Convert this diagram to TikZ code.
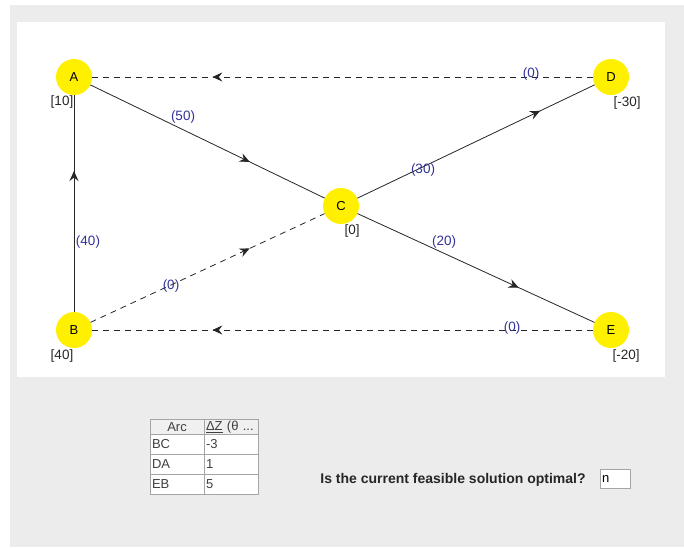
\documentclass[tikz,border=0pt]{standalone}
\usepackage{fontspec}
\setmainfont{Liberation Sans}
\usetikzlibrary{arrows.meta,decorations.markings}
\definecolor{panelGray}{RGB}{236,236,236}
\definecolor{nodeYellow}{RGB}{255,240,0}
\definecolor{flowBlue}{RGB}{51,51,153}
\definecolor{gridGray}{RGB}{165,165,165}
\definecolor{headGray}{RGB}{240,240,240}

\begin{document}
\begin{tikzpicture}[x=1pt, y=-1pt]
    % Styles
    \tikzstyle{vertex} = [circle, fill=nodeYellow, minimum size=36pt, inner sep=0pt, font=\fontsize{13}{15}\selectfont]
    \tikzstyle{supply} = [inner sep=0pt, font=\fontsize{13.5}{15}\selectfont, text=black!85]
    \tikzstyle{flow} = [inner sep=0pt, font=\fontsize{13.5}{15}\selectfont, text=flowBlue]
    \tikzstyle{basic} = [draw=black!85, line width=0.8pt]
    \tikzstyle{nonbasic} = [basic, dash pattern=on 6pt off 5pt]
    \tikzstyle{headcell} = [rectangle, draw=gridGray, fill=headGray, minimum width=54pt, minimum height=15pt, inner sep=2pt, font=\fontsize{13}{15}\selectfont, text=black!75]
    \tikzstyle{cell} = [rectangle, draw=gridGray, fill=white, text width=50pt, align=left, minimum height=20pt, inner sep=2pt, font=\fontsize{13}{15}\selectfont, text=black!75]
    \tikzset{midarrow/.style={postaction={decorate, decoration={markings, mark=at position #1 with {\arrow{Stealth[length=10pt, width=9pt, inset=3.5pt]}}}}}}

    % Background
    \useasboundingbox (0,0) rectangle (684,547);
    \fill[panelGray] (10,5) rectangle (684,547);
    \fill[white] (17,22) rectangle (665,377);

    % Nodes
    \node[vertex] (A) at (74,77) {A};
    \node[vertex] (D) at (611,77) {D};
    \node[vertex] (C) at (341,206) {C};
    \node[vertex] (B) at (74,330) {B};
    \node[vertex] (E) at (611,330) {E};

    \node[supply] (sA) at (62,102) {[10]};
    \node[supply] (sD) at (627,103) {[-30]};
    \node[supply] (sC) at (352,231) {[0]};
    \node[supply] (sB) at (62,356) {[40]};
    \node[supply] (sE) at (626,356) {[-20]};

    % Arcs
    \draw[basic, midarrow=0.68] (A) -- (C);
    \draw[basic, midarrow=0.77] (C) -- (D);
    \draw[basic, midarrow=0.65] (B) -- (A);
    \draw[basic, midarrow=0.68] (C) -- (E);
    \draw[nonbasic, midarrow=0.68] (B) -- (C);
    \draw[nonbasic, midarrow=0.76] (D) -- (A);
    \draw[nonbasic, midarrow=0.76] (E) -- (B);

    % Flows
    \node[flow] (fAC) at (183,117) {(50)};
    \node[flow] (fDA) at (531,74) {(0)};
    \node[flow] (fCD) at (423,170) {(30)};
    \node[flow] (fBA) at (88,242) {(40)};
    \node[flow] (fBC) at (171,286) {(0)};
    \node[flow] (fCE) at (444,242) {(20)};
    \node[flow] (fEB) at (512,328) {(0)};

    % Table
    \node[headcell] (hArc) at (177,427) {Arc};
    \node[headcell, text width=50pt, align=left] (hDelta) at (231,427) {\underline{ΔZ} (θ ...};
    \node[cell] (r1a) at (177,444.5) {BC};
    \node[cell] (r1b) at (231,444.5) {-3};
    \node[cell] (r2a) at (177,464.5) {DA};
    \node[cell] (r2b) at (231,464.5) {1};
    \node[cell] (r3a) at (177,484.5) {EB};
    \node[cell] (r3b) at (231,484.5) {5};

    % Question
    \node[font=\bfseries\fontsize{14}{16}\selectfont, text=black!85] (quest) at (453,480) {Is the current feasible solution optimal?};
    \node[draw=gridGray, fill=white, minimum width=30pt, minimum height=19pt, text width=26pt, inner sep=2pt, align=left, font=\fontsize{13}{15}\selectfont] (answer) at (615,479) {n};
\end{tikzpicture}
\end{document}
